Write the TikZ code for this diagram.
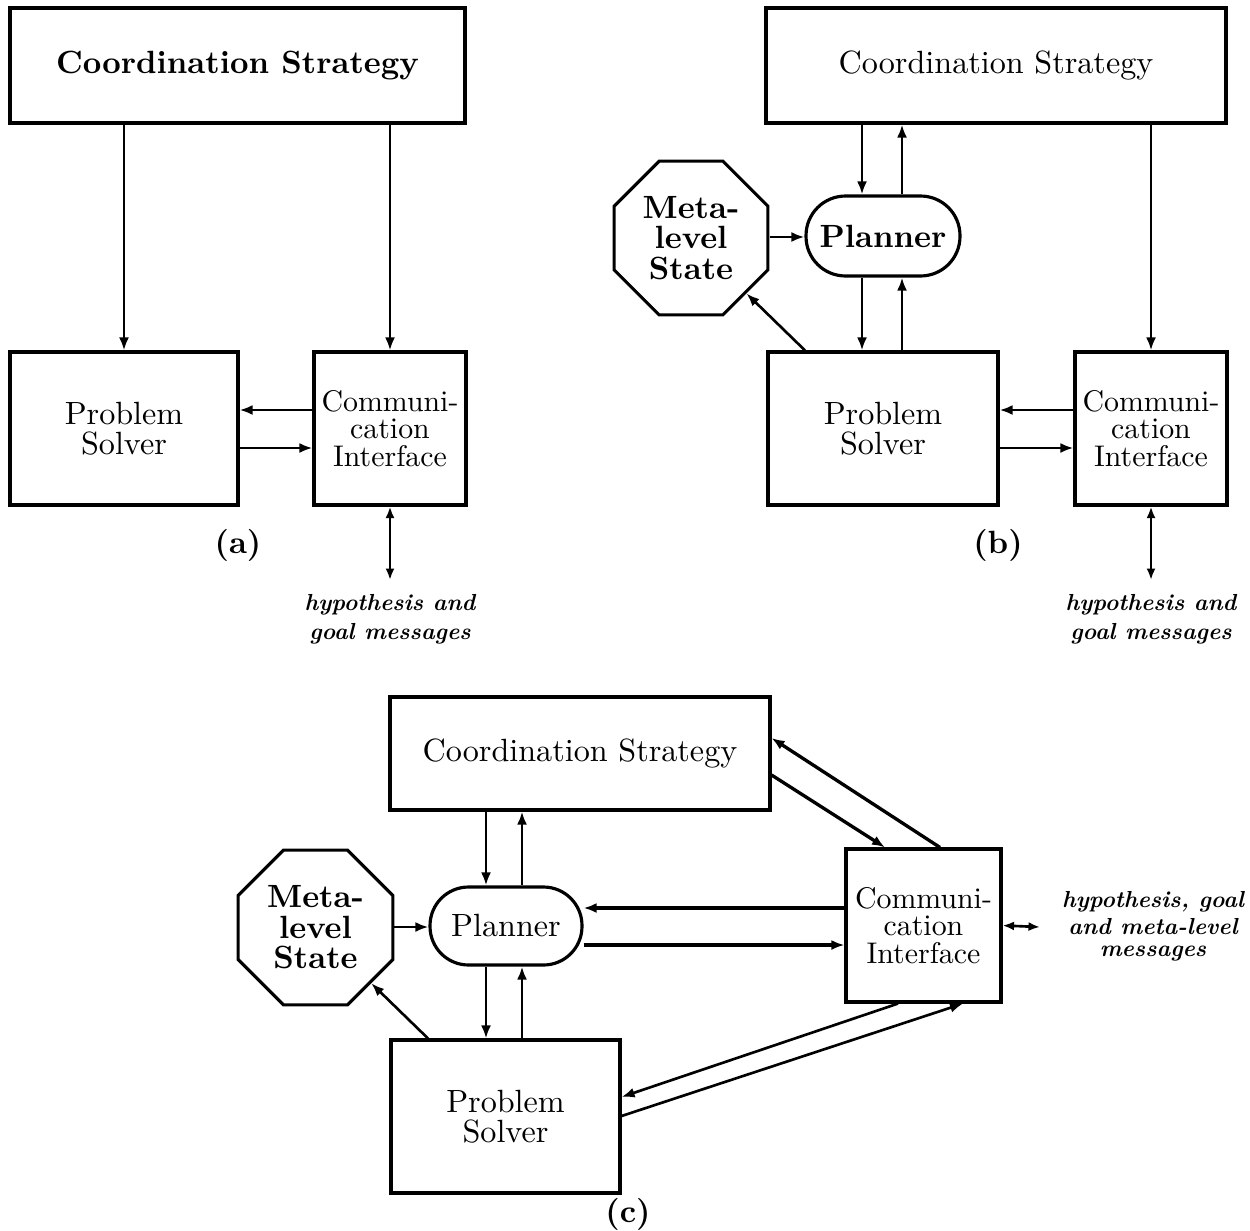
\documentclass[tikz,border=0pt]{standalone}
\usetikzlibrary{shapes.geometric,arrows.meta}
\font\rmbig="[lmroman10-regular]" at 18.3pt
\font\rmci="[lmroman10-regular]" at 17pt
\font\bfbig="[lmroman10-bold]" at 18.3pt
\font\bimsg="[lmroman10-bolditalic]" at 13.2pt
\newcommand\fontRM{\rmbig\baselineskip=17pt\relax}
\newcommand\fontBF{\bfbig\baselineskip=17pt\relax}
\newcommand\fontCI{\rmci\baselineskip=15.8pt\relax}
\newcommand\fontOC{\bfbig\baselineskip=17.3pt\relax}
\newcommand\fontMS{\bimsg\baselineskip=16.5pt\relax}
\newcommand\fontMSc{\bimsg\baselineskip=15.5pt\relax}
\begin{document}
\begin{tikzpicture}[x=0.02cm,y=-0.02cm,
  box/.style={draw,line width=1.8pt,inner sep=0pt,align=center,font=\fontRM},
  boldbox/.style={box,font=\fontBF},
  cibox/.style={box,minimum width=3.04cm,minimum height=3.06cm,font=\fontCI},
  plan/.style={box,rounded corners=0.79cm,minimum width=3.08cm,minimum height=1.6cm},
  octo/.style={draw,line width=1.8pt,regular polygon,regular polygon sides=8,minimum size=3.33cm,inner sep=0pt,align=center,font=\fontOC},
  arr/.style={line width=1.5pt,-{Latex[length=0.26cm,width=0.2cm]}},
  dbl/.style={line width=1.5pt,{Latex[length=0.23cm,width=0.18cm]}-{Latex[length=0.23cm,width=0.18cm]}},
  msg/.style={align=center,inner sep=0pt,font=\fontMS},
  captext/.style={inner sep=0pt,font=\fontBF}]
\useasboundingbox (0,0) rectangle (1250,1230);

% ---------------- (a)
\node[boldbox,minimum width=9.1cm,minimum height=2.3cm] (csA) at (237.5,65.5) {Coordination Strategy};
\node[box,minimum width=4.56cm,minimum height=3.06cm] (psA) at (124,428.5) {Problem\\Solver};
\node[cibox] (ciA) at (390,428.5) {Communi-\\cation\\Interface};
\draw[arr] (csA.south -| psA.north) -- (psA.north);
\draw[arr] (csA.south -| ciA.north) -- (ciA.north);
\draw[arr] (ciA.west |- 0,410) -- (psA.east |- 0,410);
\draw[arr] (psA.east |- 0,448) -- (ciA.west |- 0,448);
\coordinate (endA) at (390,580);
\draw[dbl] (ciA.south) -- (endA);
\node[msg] (labA) at (390,619) {hypothesis and\\goal messages};
\node[captext] (capA) at (238,545) {(a)};

% ---------------- (b)
\node[box,minimum width=9.2cm,minimum height=2.3cm] (csB) at (996,65.5) {Coordination Strategy};
\node[plan,font=\fontBF] (planB) at (883,236) {Planner};
\node[octo] (metaB) at (691,238) {Meta-\\level\\State};
\node[box,minimum width=4.6cm,minimum height=3.06cm] (psB) at (883,428.5) {Problem\\Solver};
\node[cibox] (ciB) at (1151,428.5) {Communi-\\cation\\Interface};
\draw[arr] (csB.south -| 862,0) -- (planB.north -| 862,0);
\draw[arr] (planB.north -| 902,0) -- (csB.south -| 902,0);
\draw[arr] (planB.south -| 862,0) -- (psB.north -| 862,0);
\draw[arr] (psB.north -| 902,0) -- (planB.south -| 902,0);
\draw[arr] (metaB.east |- 0,237) -- (planB.west |- 0,237);
\draw[arr] (psB.north -| 805,0) -- (metaB.-45);
\draw[arr] (csB.south -| ciB.north) -- (ciB.north);
\draw[arr] (ciB.west |- 0,410) -- (psB.east |- 0,410);
\draw[arr] (psB.east |- 0,448) -- (ciB.west |- 0,448);
\coordinate (endB) at (1151,580);
\draw[dbl] (ciB.south) -- (endB);
\node[msg] (labB) at (1151,619) {hypothesis and\\goal messages};
\node[captext] (capB) at (998,545) {(b)};

% ---------------- (c)
\node[box,minimum width=7.6cm,minimum height=2.26cm] (csC) at (580,753.5) {Coordination Strategy};
\node[plan,minimum width=3.04cm,minimum height=1.56cm,rounded corners=0.77cm] (planC) at (506,926) {Planner};
\node[octo,minimum size=3.35cm] (metaC) at (315.5,927.5) {Meta-\\level\\State};
\node[box,minimum width=4.58cm,minimum height=3.06cm] (psC) at (505.5,1116.5) {Problem\\Solver};
\node[cibox,minimum width=3.1cm] (ciC) at (923.5,925.5) {Communi-\\cation\\Interface};
\draw[arr] (csC.south -| 486,0) -- (planC.north -| 486,0);
\draw[arr] (planC.north -| 522,0) -- (csC.south -| 522,0);
\draw[arr] (planC.south -| 486,0) -- (psC.north -| 486,0);
\draw[arr] (psC.north -| 522,0) -- (planC.south -| 522,0);
\draw[arr] (metaC.east |- 0,927) -- (planC.west |- 0,927);
\draw[arr] (psC.north -| 428,0) -- (metaC.-45);
\draw[arr,line width=1.9pt] (ciC.west |- 0,908) -- (planC.east |- 0,908);
\draw[arr,line width=1.9pt] (planC.east |- 0,945) -- (ciC.west |- 0,945);
\draw[arr,line width=1.9pt] (ciC.north -| 940,0) -- (csC.east |- 0,738);
\draw[arr,line width=1.9pt] (csC.east |- 0,775) -- (ciC.north -| 885,0);
\draw[arr] (ciC.south -| 898,0) -- (psC.east |- 0,1097);
\draw[arr] (psC.east |- 0,1116) -- (ciC.south -| 963,0);
\coordinate (endC) at (1040,927);
\draw[dbl] (ciC.east) -- (endC);
\node[msg,font=\fontMSc] (labC) at (1153,926) {hypothesis, goal\\and meta-level\\[-3pt]messages};
\node[captext] (capC) at (628,1214) {(c)};
\end{tikzpicture}
\end{document}
